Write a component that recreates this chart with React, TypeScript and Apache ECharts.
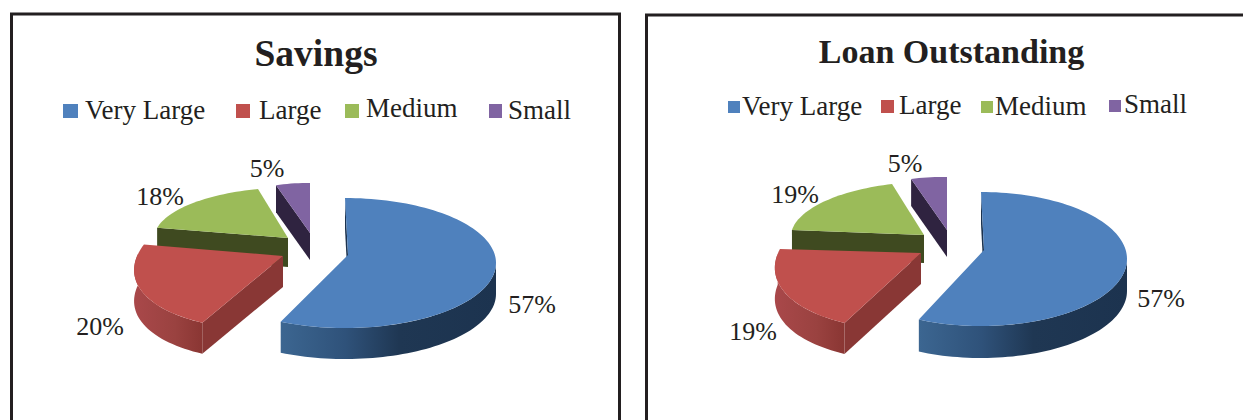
import React, { useEffect, useRef } from "react";
import * as echarts from "echarts";

const categories = ["Very Large", "Large", "Medium", "Small"];
const savingsValues = [57, 20, 18, 5];
const loanValues = [57, 19, 19, 5];
const titles = ["Savings", "Loan Outstanding"];

const topColors = ["#4f81bd", "#c0504d", "#9bbb59", "#8064a2"];
const cutColors = ["#1c334f", "#893735", "#3f4a20", "#2f2340"];
const INK = "#231f20";
const SERIF = '"Liberation Serif", "Times New Roman", serif';

// Projection of every slice: rim ellipse (affine), apex and extrusion depth
const savingsGeometry = [
  { cx: 345, cy: 263, a: 151, b: 0, c: 0, d: 65, ax: 348, ay: 255, depth: 31 },
  { cx: 308, cy: 254, a: 170, b: -36.8, c: 0, d: 76, ax: 283, ay: 256, depth: 31 },
  { cx: 288, cy: 237, a: 133.4, b: -11.8, c: 3, d: 49.5, ax: 288, ay: 238, depth: 29 },
  { cx: 310, cy: 233, a: 110, b: 0, c: 1, d: 50, ax: 310, ay: 233, depth: 27 },
];
const loanGeometry = [
  { cx: 981, cy: 259, a: 146, b: 0, c: 0, d: 67, ax: 984, ay: 250, depth: 32 },
  { cx: 942.7, cy: 253.8, a: 165, b: -30.9, c: 0, d: 76.4, ax: 921, ay: 253, depth: 31 },
  { cx: 924, cy: 235, a: 132.9, b: -9.6, c: 1.7, d: 53, ax: 924, ay: 235, depth: 28 },
  { cx: 947, cy: 230, a: 116, b: 0, c: 2, d: 53, ax: 947, ay: 230, depth: 27 },
];
const savingsLabels = [[532, 304], [100, 326], [160, 196], [267, 168]];
const loanLabels = [[1161, 298], [753, 331], [795, 194], [905, 163]];

const savingsLegend = [
  { sx: 63, sy: 104, sw: 15, sh: 14, tx: 85, ty: 110 },
  { sx: 236, sy: 104, sw: 14, sh: 14, tx: 259, ty: 110 },
  { sx: 345, sy: 104, sw: 14, sh: 14, tx: 366, ty: 108 },
  { sx: 489, sy: 104, sw: 13, sh: 14, tx: 508, ty: 110 },
];
const loanLegend = [
  { sx: 728, sy: 101, sw: 12, sh: 12, tx: 742, ty: 106 },
  { sx: 881, sy: 100, sw: 13, sh: 13, tx: 899, ty: 105 },
  { sx: 981, sy: 101, sw: 12, sh: 12, tx: 995, ty: 106 },
  { sx: 1109, sy: 100, sw: 12, sh: 12, tx: 1124, ty: 104 },
];

const sideGradient = (i: number) =>
  i === 0
    ? new echarts.graphic.LinearGradient(0, 0, 1, 0, [
        { offset: 0, color: "#3c6691" },
        { offset: 0.3, color: "#2f527a" },
        { offset: 0.55, color: "#1f3753" },
        { offset: 1, color: "#1c334f" },
      ])
    : new echarts.graphic.LinearGradient(0, 0, 1, 0, [
        { offset: 0, color: "#a9484a" },
        { offset: 0.6, color: "#9a4240" },
        { offset: 1, color: "#8a3633" },
      ]);

function pieSeries(values: number[], geometry: any[], labels: number[][]) {
  const total = values.reduce((s, v) => s + v, 0);
  const renderItem = (params: any, api: any) => {
    const i = params.dataIndex;
    const g = geometry[i];
    const before = values.slice(0, i).reduce((s, v) => s + v, 0);
    const start = (before / total) * 360;
    const end = start + (api.value(0) / total) * 360;
    const rim = (deg: number) => {
      const t = (deg * Math.PI) / 180;
      const s = Math.sin(t);
      const n = -Math.cos(t);
      return [g.cx + g.a * s + g.b * n, g.cy + g.c * s + g.d * n];
    };
    const arc = (from: number, to: number) => {
      const pts: number[][] = [];
      const n = Math.max(2, Math.ceil((to - from) / 2));
      for (let k = 0; k <= n; k++) pts.push(rim(from + ((to - from) * k) / n));
      return pts;
    };
    const order = (4 - i) * 10 === 40 ? 40 : i === 1 ? 30 : i === 2 ? 20 : 10;
    const children: any[] = [];
    const first = rim(start);
    children.push({
      type: "polygon",
      z2: order,
      shape: {
        points: [
          first,
          [g.ax, g.ay],
          [g.ax, g.ay + g.depth],
          [first[0], first[1] + g.depth],
        ],
      },
      style: { fill: cutColors[i] },
    });
    const from = Math.max(start, 90);
    const to = Math.min(end, 270);
    if (to > from) {
      const upper = arc(from, to);
      const lower = upper.map((p) => [p[0], p[1] + g.depth]).reverse();
      children.push({
        type: "polygon",
        z2: order + 1,
        shape: { points: upper.concat(lower) },
        style: { fill: sideGradient(i) },
      });
    }
    children.push({
      type: "polygon",
      z2: order + 2,
      shape: { points: [[g.ax, g.ay] as number[]].concat(arc(start, end)) },
      style: { fill: topColors[i] },
    });
    children.push({
      type: "text",
      z2: 100,
      style: {
        text: `${api.value(0)}%`,
        x: labels[i][0],
        y: labels[i][1],
        fill: INK,
        font: `26px ${SERIF}`,
        align: "center",
        verticalAlign: "middle",
      },
    });
    return { type: "group", children };
  };
  return {
    type: "custom",
    coordinateSystem: "none",
    silent: true,
    renderItem,
    data: values.map((v, i) => ({ name: categories[i], value: v })),
  };
}

function legendGraphics(layout: any[]) {
  const out: any[] = [];
  layout.forEach((l, i) => {
    out.push({
      type: "rect",
      shape: { x: l.sx, y: l.sy, width: l.sw, height: l.sh },
      style: { fill: topColors[i] },
    });
    out.push({
      type: "text",
      style: {
        text: categories[i],
        x: l.tx,
        y: l.ty,
        fill: INK,
        font: `27px ${SERIF}`,
        verticalAlign: "middle",
      },
    });
  });
  return out;
}

export default function App() {
  const ref = useRef<HTMLDivElement>(null);
  useEffect(() => {
    const chart = echarts.init(ref.current!, null, { renderer: "svg" });
    chart.setOption({
      animation: false,
      backgroundColor: "#ffffff",
      graphic: [
        {
          type: "rect",
          shape: { x: 11.5, y: 14, width: 608, height: 440 },
          style: { fill: "none", stroke: INK, lineWidth: 3 },
        },
        {
          type: "rect",
          shape: { x: 646.5, y: 15, width: 640, height: 440 },
          style: { fill: "none", stroke: INK, lineWidth: 3 },
        },
        {
          type: "text",
          style: {
            text: titles[0],
            x: 316,
            y: 53,
            fill: INK,
            font: `bold 37.5px ${SERIF}`,
            align: "center",
            verticalAlign: "middle",
          },
        },
        {
          type: "text",
          style: {
            text: titles[1],
            x: 951.5,
            y: 51,
            fill: INK,
            font: `bold 34px ${SERIF}`,
            align: "center",
            verticalAlign: "middle",
          },
        },
        ...legendGraphics(savingsLegend),
        ...legendGraphics(loanLegend),
      ],
      series: [
        pieSeries(savingsValues, savingsGeometry, savingsLabels),
        pieSeries(loanValues, loanGeometry, loanLabels),
      ],
    });
    return () => chart.dispose();
  }, []);
  return (
    <div
      ref={ref}
      style={{ position: "absolute", left: 0, top: 0, width: 1243, height: 420, overflow: "hidden" }}
    />
  );
}
